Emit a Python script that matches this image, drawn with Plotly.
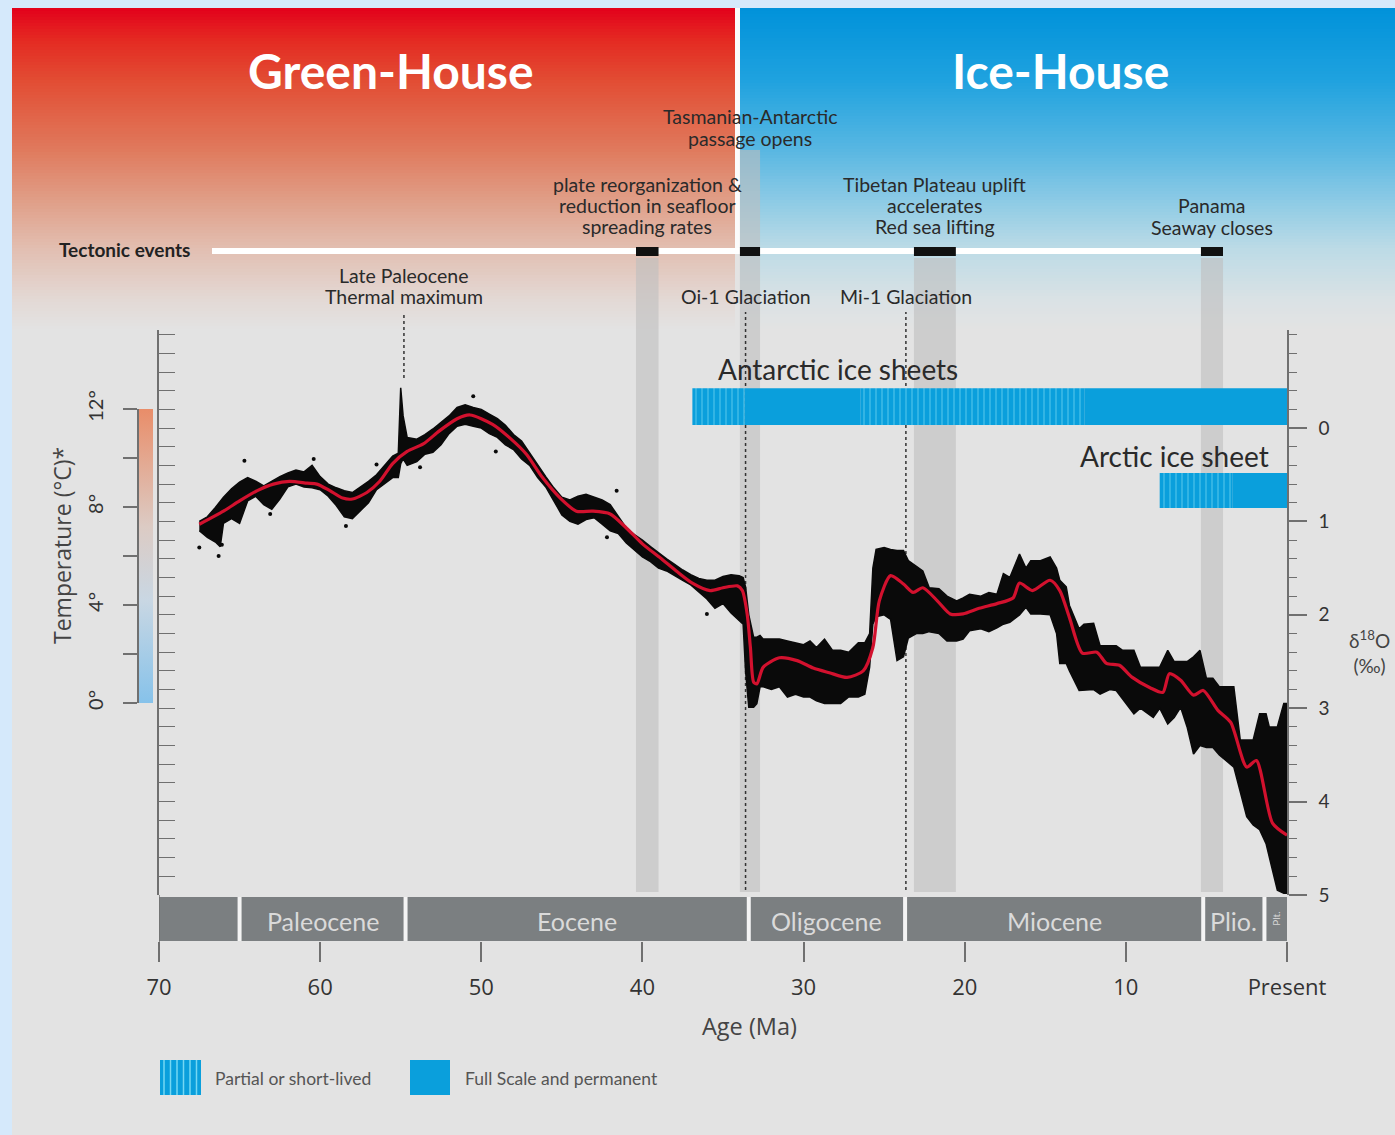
import plotly.graph_objects as go

# ---------------- data ----------------
smooth_age = [67.5, 66.0, 65.0, 63.9, 62.9, 61.9, 60.8, 60.2, 59.4, 58.6, 58.0, 57.1, 56.3, 55.5, 54.6,
              53.6, 52.6, 51.5, 50.7, 49.3, 48.2, 47.2, 46.2, 45.1, 44.1, 43.1, 42.0, 41.0, 40.0, 38.9,
              37.9, 36.9, 35.8, 35.0, 34.1, 33.8, 33.5, 33.3, 33.1, 32.9, 32.5, 31.5, 30.4, 29.4, 28.4,
              27.3, 26.3, 25.7, 25.3, 24.6, 23.8, 23.2, 22.6, 21.7, 20.9, 20.1, 19.1, 18.0, 17.0, 16.6,
              15.8, 14.7, 14.1, 13.5, 12.7, 11.8, 11.2, 10.4, 9.6, 8.5, 7.7, 7.3, 6.6, 5.8, 5.2,
              4.3, 3.5, 2.5, 1.9, 0.9, 0.0]
smooth_d18o = [1.03, 0.89, 0.78, 0.67, 0.60, 0.57, 0.59, 0.60, 0.67, 0.75, 0.76, 0.69, 0.57, 0.38, 0.25,
               0.17, 0.03, -0.10, -0.14, -0.04, 0.11, 0.28, 0.53, 0.75, 0.89, 0.89, 0.92, 1.07, 1.24, 1.39,
               1.53, 1.66, 1.74, 1.71, 1.69, 1.74, 1.99, 2.35, 2.72, 2.74, 2.56, 2.46, 2.49, 2.57, 2.62,
               2.67, 2.60, 2.35, 1.85, 1.58, 1.67, 1.76, 1.71, 1.85, 1.99, 1.99, 1.93, 1.88, 1.82, 1.66,
               1.74, 1.63, 1.74, 2.03, 2.41, 2.40, 2.52, 2.54, 2.67, 2.78, 2.83, 2.63, 2.70, 2.86, 2.81,
               3.02, 3.15, 3.63, 3.56, 4.23, 4.36]

env_age = [67.5, 67.0, 66.5, 66.2, 66.0, 65.5, 65.0, 64.5, 64.0, 63.5, 63.0, 62.5, 62.0, 61.5, 61.0,
           60.5, 60.0, 59.5, 59.0, 58.5, 58.0, 57.5, 57.0, 56.5, 56.0, 55.5, 55.15, 55.0, 54.85, 54.6,
           54.0, 53.5, 53.0, 52.5, 52.0, 51.5, 51.0, 50.5, 50.0, 49.5, 49.0, 48.5, 48.0, 47.5, 47.0,
           46.5, 46.0, 45.5, 45.0, 44.5, 44.0, 43.5, 43.0, 42.5, 42.0, 41.5, 41.0, 40.5, 40.0, 39.5,
           39.0, 38.5, 38.0, 37.5, 37.0, 36.5, 36.0, 35.5, 35.0, 34.5, 34.0, 33.75, 33.6, 33.4, 33.1,
           32.9, 32.7, 32.5, 32.0, 31.5, 31.0, 30.5, 30.0, 29.6, 29.2, 28.7, 28.2, 27.7, 27.2, 26.6,
           26.2, 25.9, 25.7, 25.5, 25.0, 24.6, 24.2, 23.8, 23.5, 23.0, 22.6, 22.2, 21.6, 21.1, 20.5,
           20.1, 19.7, 19.0, 18.5, 18.0, 17.6, 17.2, 16.6, 16.2, 15.9, 15.3, 14.7, 14.3, 14.1, 13.7,
           13.5, 12.9, 12.6, 12.0, 11.6, 11.0, 10.6, 10.2, 9.5, 9.1, 8.3, 7.9, 7.4, 7.0, 6.6,
           6.2, 5.8, 5.4, 5.0, 4.6, 4.2, 3.3, 2.9, 2.5, 2.1, 1.7, 1.3, 1.1, 0.6, 0.2, 0.0]
env_upper = [1.00, 0.95, 0.85, 0.78, 0.74, 0.65, 0.58, 0.53, 0.57, 0.62, 0.57, 0.52, 0.48, 0.45, 0.47,
             0.40, 0.52, 0.60, 0.64, 0.67, 0.69, 0.63, 0.57, 0.50, 0.40, 0.30, 0.27, -0.43, -0.13, 0.10,
             0.12, 0.07, 0.01, -0.06, -0.13, -0.22, -0.25, -0.22, -0.20, -0.15, -0.10, -0.03, 0.07, 0.14, 0.27,
             0.40, 0.52, 0.64, 0.74, 0.77, 0.73, 0.71, 0.74, 0.77, 0.82, 0.94, 1.07, 1.14, 1.20, 1.27,
             1.34, 1.40, 1.46, 1.52, 1.57, 1.61, 1.63, 1.63, 1.59, 1.57, 1.58, 1.60, 1.70, 2.00, 2.24,
             2.24, 2.22, 2.26, 2.26, 2.26, 2.28, 2.30, 2.32, 2.28, 2.35, 2.26, 2.38, 2.38, 2.40, 2.30,
             2.30, 2.20, 1.50, 1.30, 1.28, 1.30, 1.31, 1.31, 1.42, 1.48, 1.53, 1.71, 1.72, 1.80, 1.85,
             1.82, 1.78, 1.80, 1.76, 1.78, 1.56, 1.60, 1.35, 1.50, 1.42, 1.42, 1.38, 1.50, 1.63, 1.70,
             1.90, 2.15, 2.10, 2.09, 2.33, 2.33, 2.33, 2.38, 2.38, 2.56, 2.56, 2.56, 2.38, 2.50, 2.50,
             2.50, 2.45, 2.38, 2.68, 2.68, 2.77, 2.77, 3.34, 3.34, 3.34, 3.06, 3.06, 3.20, 3.20, 2.95, 2.95]
env_lower = [1.10, 1.17, 1.22, 1.27, 1.02, 0.97, 1.02, 0.78, 0.73, 0.82, 0.87, 0.76, 0.63, 0.60, 0.63,
             0.64, 0.66, 0.73, 0.83, 0.95, 0.97, 0.88, 0.80, 0.66, 0.60, 0.53, 0.53, 0.38, 0.33, 0.40,
             0.36, 0.28, 0.26, 0.18, 0.06, -0.02, -0.04, -0.02, 0.00, 0.06, 0.10, 0.18, 0.23, 0.33, 0.40,
             0.53, 0.63, 0.78, 0.93, 1.00, 1.03, 0.98, 0.96, 1.03, 1.10, 1.13, 1.23, 1.30, 1.38, 1.43,
             1.50, 1.53, 1.58, 1.63, 1.68, 1.76, 1.83, 1.93, 1.88, 1.98, 2.06, 2.10, 2.60, 2.99, 2.99,
             2.95, 2.77, 2.77, 2.80, 2.77, 2.88, 2.85, 2.88, 2.88, 2.92, 2.95, 2.95, 2.95, 2.88, 2.88,
             2.85, 2.56, 2.10, 2.02, 2.00, 2.05, 2.49, 2.45, 2.25, 2.20, 2.20, 2.18, 2.20, 2.28, 2.28,
             2.26, 2.17, 2.15, 2.18, 2.14, 2.10, 2.08, 2.00, 1.92, 1.99, 1.99, 2.00, 2.20, 2.52, 2.52,
             2.60, 2.81, 2.81, 2.80, 2.85, 2.80, 2.81, 2.90, 3.06, 3.00, 3.10, 3.00, 3.17, 3.10, 2.99,
             3.20, 3.49, 3.40, 3.42, 3.42, 3.50, 3.63, 3.90, 4.16, 4.25, 4.30, 4.45, 4.60, 4.95, 4.98, 4.98]

dot_age = [67.5, 66.3, 66.1, 64.7, 63.1, 60.4, 58.4, 56.5, 53.8, 50.5, 49.1, 42.2, 41.6, 36.0]
dot_d18o = [1.28, 1.37, 1.25, 0.35, 0.92, 0.33, 1.05, 0.39, 0.42, -0.34, 0.25, 1.17, 0.67, 1.99]

epoch_bounds = [70.0, 65.0, 54.7, 33.4, 23.7, 5.2, 1.4, 0.0]
epoch_names = ["", "Paleocene", "Eocene", "Oligocene", "Miocene", "Plio.", "Plt."]

tect_names = [["plate reorganization &", "reduction in seafloor", "spreading rates"],
              ["Tasmanian-Antarctic", "passage opens"],
              ["Tibetan Plateau uplift", "accelerates", "Red sea lifting"],
              ["Panama", "Seaway closes"]]
tect_start = [40.4, 33.95, 23.15, 5.34]
tect_end = [39.0, 32.7, 20.55, 3.97]

glac_names = [["Late Paleocene", "Thermal maximum"], ["Oi-1 Glaciation"], ["Mi-1 Glaciation"]]
glac_age = [54.8, 33.6, 23.65]

ant_start = [36.9, 33.65, 26.45, 12.55]
ant_end = [33.65, 26.45, 12.55, 0.0]
ant_kind = ["partial", "full", "partial", "full"]
arc_start = [7.9, 3.4]
arc_end = [3.4, 0.0]
arc_kind = ["partial", "full"]

age_ticks = [70, 60, 50, 40, 30, 20, 10, 0]
age_ticktext = ["70", "60", "50", "40", "30", "20", "10", "Present"]
d18o_ticks = [0, 1, 2, 3, 4, 5]
temp_ticks = [0, 4, 8, 12]
temp_ticktext = ["0°", "4°", "8°", "12°"]

# ---------------- layout helpers ----------------
W, H = 1395, 1135
FONT = "Lato"
FONT2 = "Open Sans"
def px(x):
    return x / W
def py(y):
    return 1 - y / H

def hex_rgb(h):
    h = h.lstrip('#')
    return tuple(int(h[i:i + 2], 16) for i in (0, 2, 4))

def grad_color(stops, y):
    for (y0, c0), (y1, c1) in zip(stops[:-1], stops[1:]):
        if y0 <= y <= y1:
            t = (y - y0) / (y1 - y0)
            a, b = hex_rgb(c0), hex_rgb(c1)
            return 'rgb(%d,%d,%d)' % tuple(round(a[i] + (b[i] - a[i]) * t) for i in range(3))
    return stops[-1][1]

BG = '#e3e3e3'
BLUE = '#0a9fdc'
STRIPE = '#74d7f3'
AXC = '#707070'

shapes = []
shapes.append(dict(type='rect', xref='paper', yref='paper', x0=px(12), x1=1, y0=0, y1=py(8),
                   fillcolor=BG, line_width=0, layer='below'))
red_stops = [(8, '#e3001b'), (40, '#e42a22'), (80, '#e24c33'), (150, '#e07a5d'), (200, '#e09e87'),
             (250, '#e2bfb2'), (300, '#e3d9d5'), (330, BG)]
blue_stops = [(8, '#0092da'), (80, '#1fa2df'), (150, '#58b7e2'), (200, '#8ccae5'), (250, '#bddbe6'),
              (300, '#dae2e5'), (330, BG)]
step = 3
for y0 in range(8, 330, step):
    y1 = min(y0 + step, 330)
    ym = (y0 + y1) / 2
    shapes.append(dict(type='rect', xref='paper', yref='paper', x0=px(12), x1=px(735),
                       y0=py(y1 + 0.6), y1=py(y0), fillcolor=grad_color(red_stops, ym),
                       line_width=0, layer='below'))
    shapes.append(dict(type='rect', xref='paper', yref='paper', x0=px(740), x1=1,
                       y0=py(y1 + 0.6), y1=py(y0), fillcolor=grad_color(blue_stops, ym),
                       line_width=0, layer='below'))
shapes.append(dict(type='rect', xref='paper', yref='paper', x0=px(735), x1=px(740), y0=py(250), y1=py(8),
                   fillcolor='rgba(255,255,255,0.85)', line_width=0, layer='below'))

for i, (s, e) in enumerate(zip(tect_start, tect_end)):
    top = 150 if i == 1 else 258
    shapes.append(dict(type='rect', xref='x', yref='paper', x0=s, x1=e, y0=py(892), y1=py(top),
                       fillcolor='rgba(190,190,190,0.6)', line_width=0, layer='below'))
shapes.append(dict(type='rect', xref='paper', yref='paper', x0=px(212), x1=px(1212), y0=py(254), y1=py(248),
                   fillcolor='white', line_width=0, layer='below'))
for s, e in zip(tect_start, tect_end):
    shapes.append(dict(type='rect', xref='x', yref='paper', x0=s, x1=e, y0=py(256), y1=py(247),
                       fillcolor='#111111', line_width=0, layer='below'))
for i, a in enumerate(glac_age):
    bottom = 378 if i == 0 else 890
    shapes.append(dict(type='line', xref='x', yref='paper', x0=a, x1=a, y0=py(bottom), y1=py(312),
                       line=dict(color='#333333', width=1.5, dash='dot'), layer='below'))
for i in range(len(epoch_names)):
    shapes.append(dict(type='rect', xref='x', yref='paper', x0=epoch_bounds[i], x1=epoch_bounds[i + 1],
                       y0=py(941), y1=py(897), fillcolor='#7b7f81', line_width=0, layer='below'))
for b in epoch_bounds[1:-1]:
    shapes.append(dict(type='line', xref='x', yref='paper', x0=b, x1=b, y0=py(941), y1=py(897),
                       line=dict(color='#f4f4f4', width=4), layer='below'))
shapes.append(dict(type='line', xref='x', yref='paper', x0=70, x1=70, y0=py(961), y1=py(895),
                   line=dict(color=AXC, width=1.5)))
shapes.append(dict(type='rect', xref='paper', yref='paper', x0=px(160), x1=px(201), y0=py(1095), y1=py(1060),
                   fillcolor=BLUE, line_width=0))
for k in range(6):
    xx = 164 + k * 6.5
    shapes.append(dict(type='line', xref='paper', yref='paper', x0=px(xx), x1=px(xx), y0=py(1095), y1=py(1060),
                       line=dict(color=STRIPE, width=1.5)))
shapes.append(dict(type='rect', xref='paper', yref='paper', x0=px(410), x1=px(450), y0=py(1095), y1=py(1060),
                   fillcolor=BLUE, line_width=0))

# ---------------- traces ----------------
fig = go.Figure()
fig.add_trace(go.Scatter(x=env_age + env_age[::-1], y=env_upper + env_lower[::-1], fill='toself',
                         fillcolor='#0a0a0a', line=dict(color='#0a0a0a', width=1.5), mode='lines',
                         hoverinfo='skip', showlegend=False))
fig.add_trace(go.Scatter(x=dot_age, y=dot_d18o, mode='markers', marker=dict(color='#0a0a0a', size=4),
                         hoverinfo='skip', showlegend=False))
fig.add_trace(go.Scatter(x=smooth_age, y=smooth_d18o, mode='lines',
                         line=dict(color='#d2112e', width=3.2, shape='spline', smoothing=0.7),
                         hoverinfo='skip', showlegend=False))

def ice_bar(starts, ends, kinds, yc, wid):
    return go.Bar(orientation='h', base=ends, x=[s - e for s, e in zip(starts, ends)], y=[yc] * len(starts),
                  width=wid,
                  marker=dict(color=BLUE, line_width=0,
                              pattern=dict(shape=['|' if k == 'partial' else '' for k in kinds],
                                           fgcolor=STRIPE, bgcolor=BLUE, size=6, solidity=0.25,
                                           fillmode='overlay')),
                  hoverinfo='skip', showlegend=False)

fig.add_trace(ice_bar(ant_start, ant_end, ant_kind, -0.23, 0.395))
fig.add_trace(ice_bar(arc_start, arc_end, arc_kind, 0.668, 0.374))

fig.add_trace(go.Scatter(x=[70, 70], y=[-50, -50], yaxis='y2', mode='markers',
                         marker=dict(color=[0, 12], cmin=0, cmax=12, size=1, showscale=True,
                                     colorscale=[[0, '#86c2ea'], [0.35, '#c9d7e3'], [0.6, '#dccbc4'],
                                                 [1, '#e98d69']],
                                     colorbar=dict(x=px(139), xanchor='left', xref='paper', y=py(556),
                                                   yanchor='middle', len=(703 - 409) / H, lenmode='fraction',
                                                   thickness=14, thicknessmode='pixels', xpad=0, ypad=0,
                                                   outlinewidth=0, showticklabels=False, ticks='')),
                         hoverinfo='skip', showlegend=False))
fig.add_trace(go.Scatter(x=[None], y=[None], yaxis='y3', mode='lines', hoverinfo='skip', showlegend=False))

# ---------------- annotations ----------------
ann = []
def txt(x, y, t, size=18, color='#2a2a2a', xref='paper', xanchor='center', weight='normal', angle=0,
        family=FONT):
    ann.append(dict(x=x if xref != 'paper' else px(x), y=py(y), xref=xref, yref='paper', text=t,
                    showarrow=False, xanchor=xanchor, yanchor='middle', textangle=angle,
                    font=dict(family=family, size=size, color=color, weight=weight)))

LINE = 21.5
txt(391, 70, "Green-House", size=48, color='white', weight='bold')
txt(1060, 70, "Ice-House", size=48, color='white', weight='bold')
tect_top = [184, 117, 184, 206]
for lines, s, e, y0 in zip(tect_names, tect_start, tect_end, tect_top):
    for j, ln in enumerate(lines):
        txt((s + e) / 2, y0 + j * LINE, ln, size=19.5, xref='x')
txt(192, 250, "Tectonic events", size=19, xanchor='right', weight='bold', color='#222')
glac_top = [275, 296, 296]
for lines, a, y0 in zip(glac_names, glac_age, glac_top):
    for j, ln in enumerate(lines):
        txt(a, y0 + j * LINE, ln, size=19.5, xref='x')
txt(716, 369, "Antarctic ice sheets", size=28, xanchor='left', color='#2a2a2a')
txt(1271, 456, "Arctic ice sheet", size=28, xanchor='right', color='#2a2a2a')
txt(62, 546, "Temperature (°C)*", size=23, angle=-90, color='#444', family=FONT2)
txt(1369, 652, "δ<sup>18</sup>O<br>(‰)", size=19, color='#444')
txt(749, 1026, "Age (Ma)", size=23.5, color='#444', family=FONT2)
for i, name in enumerate(epoch_names):
    if not name:
        continue
    mid = (epoch_bounds[i] + epoch_bounds[i + 1]) / 2
    if name == "Plt.":
        txt(mid, 919, name, size=10, xref='x', angle=-90, color='#d6d6d6')
    else:
        txt(mid, 921, name, size=25, xref='x', color='#dadada')
txt(213, 1078, "Partial or short-lived", size=17.5, xanchor='left', color='#555')
txt(463, 1078, "Full Scale and permanent", size=17.5, xanchor='left', color='#555')

# ---------------- layout ----------------
fig.update_layout(
    width=W, height=H, margin=dict(l=0, r=0, t=0, b=0, pad=0, autoexpand=False),
    paper_bgcolor='#d5e9fb', plot_bgcolor='rgba(0,0,0,0)',
    barmode='overlay', showlegend=False, hovermode=False,
    font=dict(family=FONT, color='#333'),
    shapes=shapes, annotations=ann,
    xaxis=dict(domain=[px(159), px(1287)], range=[70, 0], anchor='free', position=py(941),
               tickvals=age_ticks, ticktext=age_ticktext, ticks='outside', ticklen=20, tickwidth=1.5,
               tickcolor=AXC, showline=False, showgrid=False, zeroline=False,
               tickfont=dict(family=FONT2, size=22, color='#333'), ticklabelstandoff=7),
    yaxis=dict(domain=[py(895), py(330)], range=[5.0, -1.05], side='right', anchor='x',
               showline=True, linecolor=AXC, linewidth=1.5, showgrid=False, zeroline=False,
               tickvals=d18o_ticks, ticks='outside', ticklen=18, tickwidth=1.5, tickcolor=AXC,
               tickfont=dict(family=FONT, size=19, color='#333'), ticklabelstandoff=8,
               minor=dict(dtick=0.2, tick0=0, ticks='outside', ticklen=8, tickwidth=1.2, tickcolor=AXC,
                          showgrid=False)),
    yaxis2=dict(domain=[py(703), py(409)], range=[0, 12], anchor='free', position=px(138), side='left',
                showline=True, linecolor=AXC, linewidth=1.5, showgrid=False, zeroline=False,
                tickvals=temp_ticks, ticktext=temp_ticktext, ticks='outside', ticklen=14, tickwidth=1.5,
                tickcolor=AXC, tickangle=-90, tickfont=dict(family=FONT, size=20, color='#333'),
                ticklabelstandoff=12,
                minor=dict(dtick=2, tick0=0, ticks='outside', ticklen=14, tickwidth=1.5, tickcolor=AXC,
                           showgrid=False)),
    yaxis3=dict(overlaying='y', range=[5.0, -1.05], side='left', anchor='x', showline=True,
                linecolor=AXC, linewidth=1.5, showgrid=False, zeroline=False,
                tickvals=[round(-1.0 + 0.2 * k, 1) for k in range(31)], ticks='inside', ticklen=16,
                tickwidth=1.2, tickcolor=AXC, showticklabels=False),
)

fig.write_html("out.html", config={'displayModeBar': False},
               post_script="document.body.style.margin='0px';document.body.style.background='#d5e9fb';")
